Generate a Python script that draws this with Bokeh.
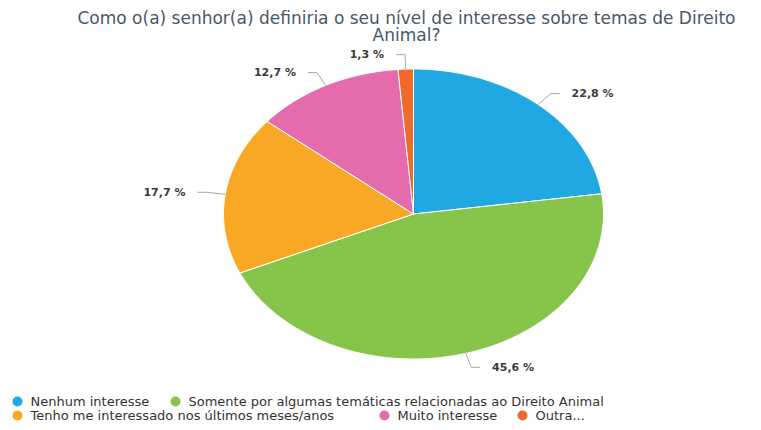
import numpy as np
from bokeh.plotting import figure
from bokeh.models import Range1d
from bokeh.core.properties import value
from bokeh.embed import file_html
from bokeh.resources import INLINE

# ---------------- data ----------------
title_lines = ["Como o(a) senhor(a) definiria o seu nível de interesse sobre temas de Direito",
               "Animal?"]
categories = ["Nenhum interesse",
              "Somente por algumas temáticas relacionadas ao Direito Animal",
              "Tenho me interessado nos últimos meses/anos",
              "Muito interesse",
              "Outra..."]
values = [22.8, 45.6, 17.7, 12.7, 1.3]
colors = ["#1fa8e1", "#86c54a", "#f9a826", "#e46cad", "#ee6a2b"]

# ---------------- layout ----------------
W, H = 745, 422
FONT = value("DejaVu Sans")
p = figure(width=W, height=H, output_backend="svg", toolbar_location=None,
           x_range=Range1d(0, W), y_range=Range1d(H, 0),
           min_border=0, min_border_left=0, min_border_right=0,
           min_border_top=0, min_border_bottom=0)
p.axis.visible = False
p.grid.visible = False
p.outline_line_color = None
p.background_fill_color = "white"
p.border_fill_color = "white"

# pie geometry (elliptical, in pixel-like data units)
cx, cy, rx, ry = 413.0, 213.5, 190.0, 145.0

vals = np.array(values, dtype=float)
fr = vals / vals.sum()
ends = np.cumsum(fr) * 2 * np.pi
starts = ends - fr * 2 * np.pi

xs, ys = [], []
for a0, a1 in zip(starts, ends):
    n = max(int((a1 - a0) / (2 * np.pi) * 400), 4)
    t = np.linspace(a0, a1, n)
    xs.append([cx] + list(cx + rx * np.sin(t)))
    ys.append([cy] + list(cy - ry * np.cos(t)))
p.patches(xs, ys, fill_color=colors, line_color="white", line_width=1)

# data labels with connectors
lab_txt = [f"{v:.1f}".replace(".", ",") + " %" for v in values]
lx, ly, lt, la = [], [], [], []
cxs, cys = [], []
for a0, a1, txt in zip(starts, ends, lab_txt):
    m = (a0 + a1) / 2
    s, c = np.sin(m), np.cos(m)
    ex, ey = cx + rx * s, cy - ry * c
    bx, by = cx + rx * 1.1 * s, cy - ry * 1.1 * c
    d = 1 if s >= 0 else -1
    hx = bx + d * 9
    cxs.append([ex, bx, hx])
    cys.append([ey, by, by])
    lx.append(hx + d * 12)
    ly.append(by)
    lt.append(txt)
    la.append("left" if d > 0 else "right")
p.multi_line(cxs, cys, line_color="#a8a8a8", line_width=1)
p.text(x=lx, y=ly, text=lt, text_align=la, text_baseline="middle",
       text_font=FONT, text_font_size="11px", text_font_style="bold",
       text_color="#3a3a3a")

# title
p.text(x=[406, 406], y=[17, 34], text=title_lines, text_align="center",
       text_baseline="middle", text_font=FONT, text_font_size="17px",
       text_color="#4a5867")

# legend
leg_x = [17, 175, 17, 384, 522]
leg_y = [401, 401, 415, 415, 415]
p.scatter(x=leg_x, y=leg_y, size=10, marker="circle", fill_color=colors,
          line_color=None)
p.text(x=[v + 13 for v in leg_x], y=leg_y, text=categories, text_align="left",
       text_baseline="middle", text_font=FONT, text_font_size="13px",
       text_color="#333333")

open("out.html", "w").write(file_html(p, INLINE))
